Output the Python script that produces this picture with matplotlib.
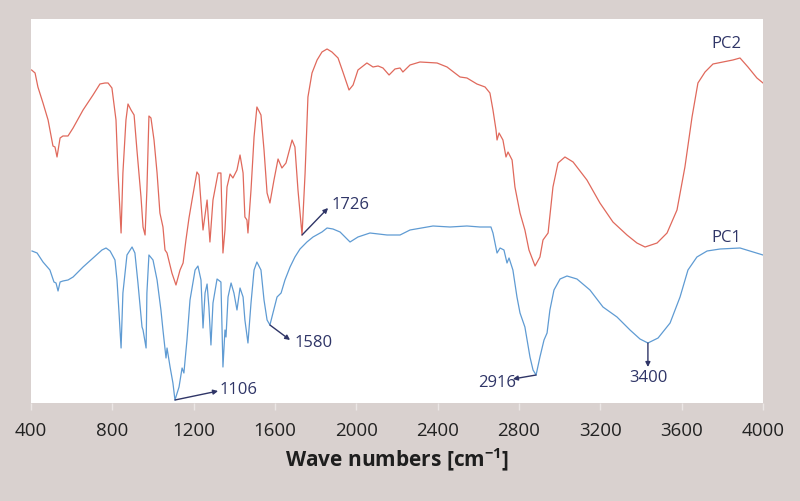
import matplotlib.pyplot as plt

# FTIR spectra, wave numbers in cm-1, transmittance in arbitrary units
pc2_wn = [403, 420, 434, 459, 484, 508, 518, 528, 543, 557, 582, 607, 656, 705, 739, 764, 779, 798,
          818, 828, 843, 852, 867, 877, 892, 907, 921, 941, 951, 961, 970, 980, 990, 1005, 1020,
          1034, 1049, 1059, 1069, 1093, 1113, 1133, 1148, 1162, 1177, 1192, 1216, 1226, 1246,
          1266, 1280, 1295, 1320, 1334, 1344, 1354, 1364, 1379, 1393, 1413, 1428, 1443, 1452,
          1462, 1467, 1482, 1497, 1511, 1531, 1546, 1561, 1575, 1595, 1615, 1634, 1654, 1684,
          1698, 1713, 1733, 1748, 1762, 1782, 1807, 1831, 1856, 1880, 1910, 1934, 1964, 1984,
          2008, 2052, 2082, 2107, 2131, 2161, 2190, 2215, 2229, 2264, 2313, 2397, 2446, 2510,
          2544, 2593, 2633, 2657, 2672, 2687, 2692, 2702, 2721, 2736, 2746, 2766, 2780, 2805,
          2829, 2849, 2879, 2903, 2918, 2943, 2967, 2992, 3026, 3066, 3134, 3198, 3262, 3331,
          3380, 3420, 3479, 3528, 3577, 3616, 3651, 3680, 3715, 3754, 3803, 3852, 3887, 3926,
          3970, 4000]
pc2_t = [333, 330, 316, 300, 283, 257, 256, 246, 265, 267, 267, 275, 293, 308, 319, 320, 320, 315,
         283, 230, 170, 230, 283, 299, 293, 288, 253, 206, 176, 168, 213, 287, 285, 263, 230,
         190, 176, 153, 150, 130, 118, 133, 140, 163, 185, 203, 231, 228, 173,
         203, 161, 203, 230, 230, 150, 173, 216, 229, 225, 233, 248, 230, 186,
         183, 170, 213, 266, 296, 288, 253, 210, 200, 223, 244, 235, 240, 263,
         256, 213, 168, 230, 306, 330, 343, 351, 354, 351, 345, 331, 313, 318,
         333, 340, 336, 337, 335, 328, 334, 335, 331, 338, 341, 340, 336, 326,
         325, 319, 316, 310, 293, 273, 263, 270, 263, 246, 251, 243, 216, 190,
         173, 153, 137, 146, 163, 170, 216, 240, 246, 241, 223, 200, 181, 168,
         160, 156, 160, 170, 193, 236, 286, 320, 331, 339, 341, 343, 345, 336,
         325, 320]

pc1_wn = [405, 430, 459, 493, 513, 523, 533, 543, 557, 582, 607, 656, 705, 749, 769, 789, 813,
          823, 833, 843, 852, 872, 897, 911, 926, 946, 951, 966, 970, 980, 1000, 1020, 1039,
          1049, 1064, 1069, 1084, 1098, 1108, 1128, 1143, 1152, 1167, 1182, 1207, 1221, 1236,
          1246, 1256, 1266, 1275, 1285, 1295, 1315, 1334, 1344, 1354, 1359, 1369, 1384, 1398,
          1413, 1428, 1443, 1452, 1467, 1482, 1497, 1511, 1531, 1546, 1561, 1575, 1590, 1610,
          1630, 1649, 1674, 1698, 1723, 1757, 1787, 1831, 1856, 1885, 1920, 1969, 2008, 2067,
          2151, 2215, 2264, 2377, 2461, 2544, 2608, 2662, 2672, 2687, 2692, 2707, 2726, 2741,
          2751, 2770, 2790, 2805, 2829, 2854, 2869, 2884, 2903, 2923, 2938, 2952, 2972, 3002,
          3036, 3085, 3149, 3213, 3282, 3346, 3395, 3434, 3484, 3543, 3592, 3631, 3675, 3725,
          3789, 3887, 3951, 4000]
pc1_t = [152, 150, 141, 133, 121, 120, 112, 121, 122, 123, 126, 136, 145, 153, 155, 152, 143,
         123, 90, 55, 110, 148, 156, 150, 120, 76, 73, 55, 110, 148, 143, 123, 93,
         73, 45, 55, 36, 20, 3, 16, 35, 30, 63, 103, 133, 137, 123,
         75, 110, 119, 96, 58, 100, 124, 121, 36, 73, 66, 106, 120, 110,
         93, 115, 106, 83, 60, 100, 133, 141, 133, 103, 83, 78, 90, 106,
         110, 123, 136, 146, 154, 161, 166, 171, 175, 174, 171, 161, 166, 170,
         168, 168, 173, 177, 176, 177, 176, 176, 170, 155, 150, 155, 153, 140,
         145, 133, 106, 90, 76, 46, 33, 28, 46, 63, 70, 93, 113, 124,
         127, 124, 113, 96, 86, 73, 64, 60, 65, 80, 106, 133, 146, 152,
         154, 155, 151, 148]

# peak labels: text, arrow tail (on curve), arrow head, text position, alignment
peak_labels = [
    ("1726", (1733, 168), (1861, 195), (1878, 198), "left"),
    ("1580", (1575, 78), (1674, 63), (1695, 60), "left"),
    ("1106", (1108, 3), (1320, 12), (1325, 13), "left"),
    ("2916", (2884, 28), (2770, 24), (2692, 20), "center"),
    ("3400", (3434, 60), (3434, 36), (3439, 25), "center"),
]
xticks = [400, 800, 1200, 1600, 2000, 2400, 2800, 3200, 3600, 4000]

red = "#e0695c"
blue = "#5f9bd3"
navy = "#2f3567"
bg = "#d9d1cf"

plt.rcParams["font.family"] = ["Open Sans", "DejaVu Sans"]
plt.rcParams["mathtext.fontset"] = "custom"
plt.rcParams["mathtext.rm"] = "Open Sans"
plt.rcParams["mathtext.bf"] = "Open Sans:bold"

fig = plt.figure(figsize=(8, 5.01), dpi=100, facecolor=bg)
ax = fig.add_axes([0.03875, 0.1956, 0.915, 0.7665])
ax.set_facecolor("white")

ax.plot(pc2_wn, pc2_t, color=red, lw=0.9)
ax.plot(pc1_wn, pc1_t, color=blue, lw=0.9)

for text, tail, head, pos, ha in peak_labels:
    ax.annotate("", xy=head, xytext=tail,
                arrowprops=dict(arrowstyle="-|>", color=navy, lw=1,
                                mutation_scale=7, shrinkA=0, shrinkB=0))
    ax.text(pos[0], pos[1], text, color=navy, fontsize=12, ha=ha, va="center")

ax.text(3818, 359, "PC2", color=navy, fontsize=12, ha="center", va="center")
ax.text(3818, 165, "PC1", color=navy, fontsize=12, ha="center", va="center")

ax.set_xlim(400, 4000)
ax.set_ylim(0, 384)
ax.set_xticks(xticks)
ax.set_yticks([])
for s in ax.spines.values():
    s.set_visible(False)
ax.tick_params(axis="x", length=5, width=1, color="#ebe6e5", pad=9,
               labelsize=13.5, labelcolor="#222222")
ax.set_xlabel(r"Wave numbers [cm$^{\mathbf{-1}}$]", fontsize=15, fontweight="bold",
              color="#1e1e1e", labelpad=5)

fig.savefig("out.png", dpi=100, facecolor=bg)
